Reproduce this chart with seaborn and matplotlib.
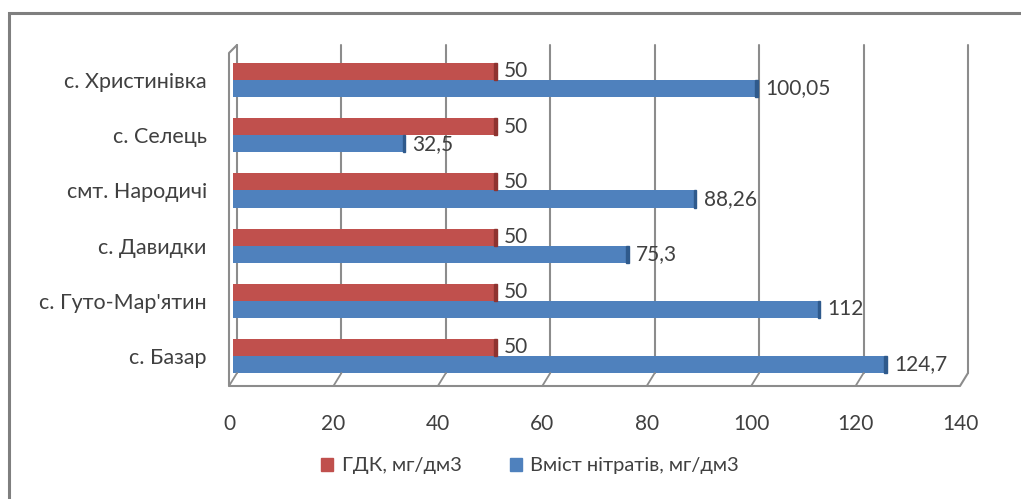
import matplotlib
matplotlib.use("Agg")
import matplotlib.pyplot as plt
import matplotlib.transforms as mtransforms
from matplotlib.lines import Line2D
from matplotlib.patches import Rectangle
import seaborn as sns
import pandas as pd

# data
villages = ["с. Христинівка", "с. Селець", "смт. Народичі",
            "с. Давидки", "с. Гуто-Мар'ятин", "с. Базар"]
gdk = [50, 50, 50, 50, 50, 50]
nitrates = [100.05, 32.5, 88.26, 75.3, 112, 124.7]
series_names = ["ГДК, мг/дм3", "Вміст нітратів, мг/дм3"]
series_colors = ["#C0504D", "#4F81BD"]
x_ticks = [0, 20, 40, 60, 80, 100, 120, 140]

df = pd.DataFrame({
    "village": villages * 2,
    "value": gdk + nitrates,
    "series": [series_names[0]] * len(villages) + [series_names[1]] * len(villages),
})

sns.set_theme(style="white")
plt.rcParams["font.family"] = ["Lato", "DejaVu Sans"]
grey = "#8C8C8C"
txt = "#404040"

W, H = 1021, 499
fig = plt.figure(figsize=(W / 100, H / 100), dpi=100)
# axes = front plane of the pseudo-3D chart, in pixels
x0, x1, y_top, y_bot = 229, 960, 45, 386
ax = fig.add_axes([x0 / W, 1 - y_bot / H, (x1 - x0) / W, (y_bot - y_top) / H])

sns.barplot(data=df, y="village", x="value", hue="series", orient="h",
            palette=series_colors, width=0.62, saturation=1, ax=ax,
            edgecolor="none", legend=False)

ax.set_xlim(0, 140)
ax.set_ylim(5.543, -0.634)
ax.set_xticks(x_ticks)
ax.set_xticklabels([str(t) for t in x_ticks], fontsize=15, color=txt)
ax.set_yticks(range(len(villages)))
ax.set_yticklabels(villages, fontsize=15.5, color=txt)
ax.tick_params(axis="x", length=0, pad=20)
ax.tick_params(axis="y", length=0, pad=16)
ax.set_xlabel("")
ax.set_ylabel("")
for s in ax.spines.values():
    s.set_visible(False)

depth = 8  # px shift of the back wall
back = mtransforms.offset_copy(ax.transData, fig=fig, x=depth, y=0, units="dots")
mid = mtransforms.offset_copy(ax.transData, fig=fig, x=depth / 2, y=0, units="dots")
y_back = 5.543 - 13 / 55.2  # floor line at the back wall

# back wall gridlines + diagonal floor ticks
for t in x_ticks:
    ax.add_line(Line2D([t, t], [-0.634, y_back], transform=back, color=grey,
                       lw=1.5, clip_on=False, zorder=0))
    if t < 140:
        xb, yb = ax.transData.transform((t, y_back))
        xf, yf = ax.transData.transform((t, 5.543))
        fig.add_artist(Line2D([(xb + depth) / W, xf / W], [yb / H, yf / H],
                              color=grey, lw=1.3, transform=fig.transFigure))

# left wall and floor outlines
def px(x, y, dx=0):
    X, Y = ax.transData.transform((x, y))
    return (X + dx) / W, Y / H

pts = [px(0, -0.634, depth), px(0, -0.634 + 8 / 55.2), px(0, 5.543),
       px(140, 5.543), px(140, y_back, depth)]
fig.add_artist(Line2D([p[0] for p in pts], [p[1] for p in pts], color=grey,
                      lw=1.5, transform=fig.transFigure))

# shift bars into the middle of the depth and add darker end caps
for cont, col in zip(ax.containers, ["#8E3330", "#2F5A8C"]):
    for bar in cont:
        bar.set_transform(mid)
        bar.set_zorder(3)
        cap = Rectangle((bar.get_x() + bar.get_width(), bar.get_y()), 0.5,
                        bar.get_height(), transform=mid, color=col, zorder=3)
        ax.add_patch(cap)

for cont, vals in zip(ax.containers, [gdk, nitrates]):
    labels = [f"{v:g}".replace(".", ",") for v in vals]
    ax.bar_label(cont, labels=labels, padding=10, fontsize=15, color=txt)

# legend
handles = [Rectangle((0, 0), 1, 1, color=c) for c in series_colors]
fig.legend(handles, series_names, loc="center", bbox_to_anchor=(530 / W, 1 - 466 / H),
           ncol=2, frameon=False, fontsize=14.5, handlelength=0.6, handleheight=0.6,
           handletextpad=0.4, columnspacing=2.4, labelcolor=txt)

# outer chart frame (only top and left edges visible)
fig.add_artist(Rectangle((9 / W, -0.1), 1.2, 1 - 13 / H + 0.1, fill=False,
                         edgecolor="#7F7F7F", lw=2.2, transform=fig.transFigure))

fig.savefig("out.png", dpi=100)
